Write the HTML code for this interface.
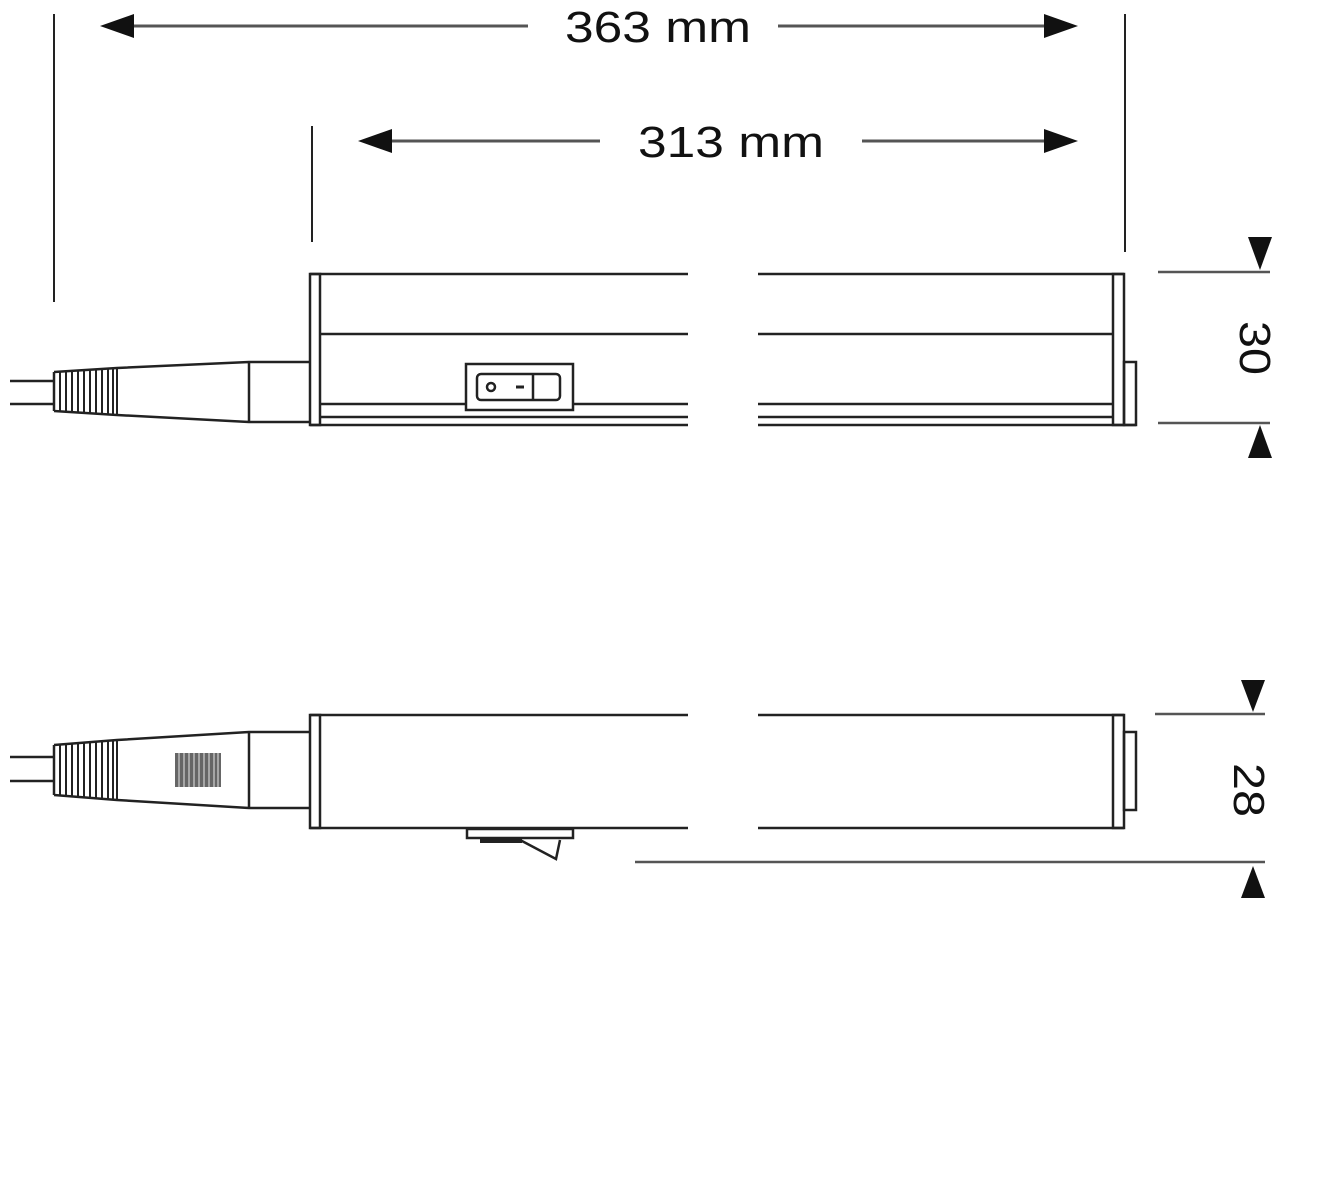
<!DOCTYPE html>
<html><head><meta charset="utf-8"><style>html,body{margin:0;padding:0;background:#fff}svg{display:block}</style></head>
<body>
<svg width="1339" height="1200" viewBox="0 0 1339 1200" xmlns="http://www.w3.org/2000/svg" font-family="Liberation Sans, sans-serif">
<g stroke="#222" fill="none" stroke-width="2.5">
<!-- dimension lines top -->
<line x1="112" y1="26" x2="528" y2="26" stroke="#555" stroke-width="3"/>
<line x1="778" y1="26" x2="1066" y2="26" stroke="#555" stroke-width="3"/>
<line x1="372" y1="141" x2="600" y2="141" stroke="#555" stroke-width="3"/>
<line x1="862" y1="141" x2="1066" y2="141" stroke="#555" stroke-width="3"/>
<line x1="54" y1="14" x2="54" y2="302" stroke-width="2"/>
<line x1="312" y1="126" x2="312" y2="242" stroke-width="2"/>
<line x1="1125" y1="14" x2="1125" y2="252" stroke-width="2"/>

<!-- top body -->
<path d="M310 274 H688 M758 274 H1124 M320 334 H688 M758 334 H1113 M320 404 H688 M758 404 H1113 M320 417 H688 M758 417 H1113 M310 425 H688 M758 425 H1136"/>
<rect x="310" y="274" width="10" height="151"/>
<rect x="1113" y="274" width="11" height="151"/>
<rect x="1124" y="362" width="12" height="63"/>
<rect x="466" y="364" width="107" height="46" fill="#fff"/>
<rect x="477" y="374" width="83" height="26" rx="4"/>
<line x1="533" y1="374" x2="533" y2="400"/>
<circle cx="491" cy="387" r="4"/>
<line x1="516" y1="387" x2="524" y2="387" stroke-width="3"/>
<!-- top plug -->
<path d="M10 381 H53 M10 404 H53"/>
<path d="M54 372 L117 368 L249 362 H310 M54 411 L117 415 L249 422 H310 M54 372 V411 M249 362 V422"/>
<path d="M60 371 V412 M66 371 V412 M72 370 V413 M78 370 V413 M84 370 V414 M90 369 V414 M96 369 V414 M102 369 V415 M108 368 V415 M113 368 V415 M117 368 V415" stroke-width="2"/>

<!-- bottom body -->
<path d="M310 715 H688 M758 715 H1124 M310 828 H688 M758 828 H1124"/>
<rect x="310" y="715" width="10" height="113"/>
<rect x="1113" y="715" width="11" height="113"/>
<rect x="1124" y="732" width="12" height="78"/>
<!-- bottom plug -->
<path d="M10 757 H53 M10 781 H53"/>
<path d="M54 745 L117 740 L249 732 H310 M54 795 L117 800 L249 808 H310 M54 745 V795 M249 732 V808"/>
<path d="M60 744 V796 M66 744 V796 M72 743 V797 M78 743 V797 M84 742 V798 M90 742 V798 M96 741 V799 M102 741 V799 M108 740 V800 M113 740 V800 M117 740 V800" stroke-width="2"/>
<rect x="175" y="753" width="46" height="34" fill="#666" stroke="none"/>
<path d="M179 753 V787 M184 753 V787 M189 753 V787 M194 753 V787 M199 753 V787 M204 753 V787 M209 753 V787 M214 753 V787 M218 753 V787" stroke="#bbb" stroke-width="1.5"/>
<!-- bottom switch -->
<rect x="467" y="829" width="106" height="9" fill="#fff"/>
<path d="M480 841 H522 L556 859 L560 840" stroke-width="2.5"/>
<line x1="480" y1="841" x2="522" y2="841" stroke-width="4"/>

<!-- right dims -->
<path d="M1158 272 H1270 M1158 423 H1270 M1155 714 H1265 M635 862 H1265" stroke="#555" stroke-width="2.5"/>
</g>
<g fill="#111">
<polygon points="100,26 134,14 134,38"/>
<polygon points="1078,26 1044,14 1044,38"/>
<polygon points="358,141 392,129 392,153"/>
<polygon points="1078,141 1044,129 1044,153"/>
<polygon points="1248,237 1272,237 1260,270"/>
<polygon points="1248,458 1272,458 1260,425"/>
<polygon points="1241,680 1265,680 1253,712"/>
<polygon points="1241,898 1265,898 1253,866"/>
</g>
<g font-size="44" fill="#111">
<text x="565" y="42" textLength="186" lengthAdjust="spacingAndGlyphs">363 mm</text>
<text x="638" y="157" textLength="186" lengthAdjust="spacingAndGlyphs">313 mm</text>
<text transform="translate(1240,348) rotate(90)" text-anchor="middle" textLength="54" lengthAdjust="spacingAndGlyphs">30</text>
<text transform="translate(1234,790) rotate(90)" text-anchor="middle" textLength="54" lengthAdjust="spacingAndGlyphs">28</text>
</g>
</svg>
</body></html>
